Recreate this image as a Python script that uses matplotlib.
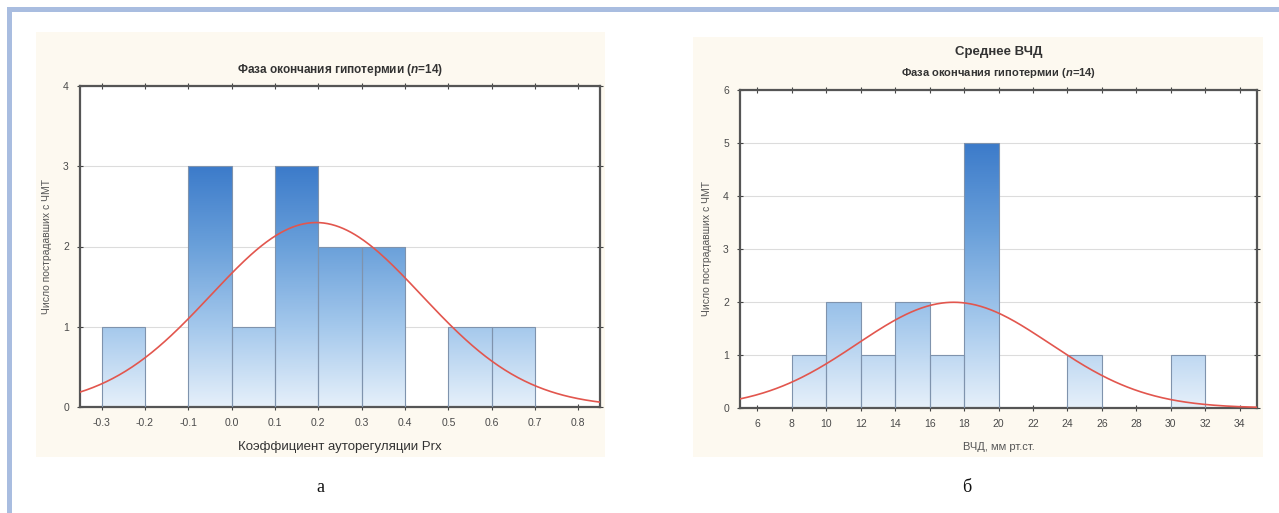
import numpy as np
import matplotlib
matplotlib.use("Agg")
import matplotlib.pyplot as plt
from matplotlib.colors import LinearSegmentedColormap
from matplotlib.patches import Rectangle

plt.rcParams['font.family'] = ['Liberation Sans', 'DejaVu Sans']
plt.rcParams['mathtext.fontset'] = 'custom'
plt.rcParams['mathtext.it'] = 'Liberation Sans:italic:bold'
plt.rcParams['mathtext.rm'] = 'Liberation Sans:bold'

# ---- data: panel a (Prx) ----
prx_bin_left = [-0.3, -0.1, 0.0, 0.1, 0.2, 0.3, 0.5, 0.6]
prx_counts = [1, 3, 1, 3, 2, 2, 1, 1]
prx_bin_width = 0.1
prx_fit_mean = 0.195
prx_fit_sd = 0.243
prx_xticks = [-0.3, -0.2, -0.1, 0.0, 0.1, 0.2, 0.3, 0.4, 0.5, 0.6, 0.7, 0.8]
prx_yticks = [0, 1, 2, 3, 4]

# ---- data: panel б (ICP) ----
icp_bin_left = [8, 10, 12, 14, 16, 18, 24, 30]
icp_counts = [1, 2, 1, 2, 1, 5, 1, 1]
icp_bin_width = 2
icp_fit_mean = 17.4
icp_fit_sd = 5.6
icp_xticks = [6, 8, 10, 12, 14, 16, 18, 20, 22, 24, 26, 28, 30, 32, 34]
icp_yticks = [0, 1, 2, 3, 4, 5, 6]
n_total = 14

W, H = 1279, 513
fig = plt.figure(figsize=(W / 100, H / 100), dpi=100)
fig.patch.set_facecolor('white')


def px_rect(x0, y0, x1, y1):
    return [x0 / W, 1 - y1 / H, (x1 - x0) / W, (y1 - y0) / H]


# background axis for frame and cream panels
bg = fig.add_axes([0, 0, 1, 1], zorder=-5)
bg.set_xlim(0, W)
bg.set_ylim(H, 0)
bg.axis('off')
frame_col = '#a9bde0'
bg.add_patch(Rectangle((7, 7), W - 7, 5, facecolor=frame_col, edgecolor='none'))
bg.add_patch(Rectangle((7, 7), 5, H - 7, facecolor=frame_col, edgecolor='none'))
cream = '#fdf9f0'
for (x0, y0, x1, y1) in [(36, 32, 605, 457), (693, 37, 1263, 457)]:
    bg.add_patch(Rectangle((x0, y0), x1 - x0, y1 - y0, facecolor=cream, edgecolor='none'))

cmap = LinearSegmentedColormap.from_list('bars', ['#e6f0fa', '#a4c8ec', '#6aa0da', '#3c7bca'])


def hist_panel(ax, lefts, counts, bw, mean, sd, xlim, ylim, xticks, yticks, xfmt):
    ax.set_facecolor('white')
    maxc = max(counts)
    bars = ax.bar(lefts, counts, width=bw, align='edge', facecolor='none',
                  edgecolor='#7f93ad', linewidth=0.8, zorder=3)
    for b, c in zip(bars, counts):
        x0 = b.get_x()
        vals = np.linspace(0, c / maxc, 256).reshape(-1, 1)
        im = ax.imshow(vals, cmap=cmap, vmin=0, vmax=1, origin='lower',
                       extent=(x0, x0 + bw, 0, c), aspect='auto', zorder=2,
                       interpolation='bilinear')
        im.set_clip_path(b)
    ax.set_xlim(*xlim)
    ax.set_ylim(*ylim)
    ax.set_aspect('auto')
    xs = np.linspace(xlim[0], xlim[1], 400)
    ys = n_total * bw / (sd * np.sqrt(2 * np.pi)) * np.exp(-0.5 * ((xs - mean) / sd) ** 2)
    ax.plot(xs, ys, color='#e2564e', linewidth=1.2, zorder=4)
    ax.set_xticks(xticks)
    ax.set_xticklabels([xfmt(v) for v in xticks])
    ax.set_yticks(yticks)
    ax.grid(axis='y', color='#dcdcdc', linewidth=0.8, zorder=1)
    ax.set_axisbelow(True)
    for s in ax.spines.values():
        s.set_color('#555555')
        s.set_linewidth(1.6)
    ax.tick_params(axis='both', which='both', direction='inout', length=4, width=0.8,
                   color='#444444', labelsize=7.5, labelcolor='#4a4a4a',
                   top=True, right=True, pad=6)


ax1 = fig.add_axes(px_rect(80, 86, 600, 407), zorder=1)
hist_panel(ax1, prx_bin_left, prx_counts, prx_bin_width, prx_fit_mean, prx_fit_sd,
           (-0.35, 0.85), (0, 4), prx_xticks, prx_yticks, lambda v: f"{v:.1f}")
ax1.set_title(r"Фаза окончания гипотермии ($\it{n}$=14)", fontsize=8.5, fontweight='bold',
              color='#333333', pad=9)
ax1.set_xlabel("Коэффициент ауторегуляции Prx", fontsize=9.5, color='#333333', labelpad=9)
ax1.set_ylabel("Число пострадавших с ЧМТ", fontsize=7.5, color='#555555', labelpad=8)

ax2 = fig.add_axes(px_rect(740, 90, 1257, 408), zorder=1)
hist_panel(ax2, icp_bin_left, icp_counts, icp_bin_width, icp_fit_mean, icp_fit_sd,
           (5, 35), (0, 6), icp_xticks, icp_yticks, lambda v: f"{v:d}")
ax2.set_title(r"Фаза окончания гипотермии ($\it{n}$=14)", fontsize=8, fontweight='bold',
              color='#333333', pad=10)
fig.text((740 + 1257) / 2 / W, 1 - 52 / H, "Среднее ВЧД", ha='center', va='center',
         fontsize=9.5, fontweight='bold', color='#333333')
ax2.set_xlabel("ВЧД, мм рт.ст.", fontsize=8, color='#555555', labelpad=9)
ax2.set_ylabel("Число пострадавших с ЧМТ", fontsize=7.5, color='#555555', labelpad=8)

# captions
fig.text(320 / W, 1 - 487 / H, "а", ha='center', va='center', fontsize=13,
         family=['Liberation Serif', 'DejaVu Serif'], color='#111111')
fig.text(967 / W, 1 - 487 / H, "б", ha='center', va='center', fontsize=13,
         family=['Liberation Serif', 'DejaVu Serif'], color='#111111')

fig.savefig("out.png", dpi=100)
